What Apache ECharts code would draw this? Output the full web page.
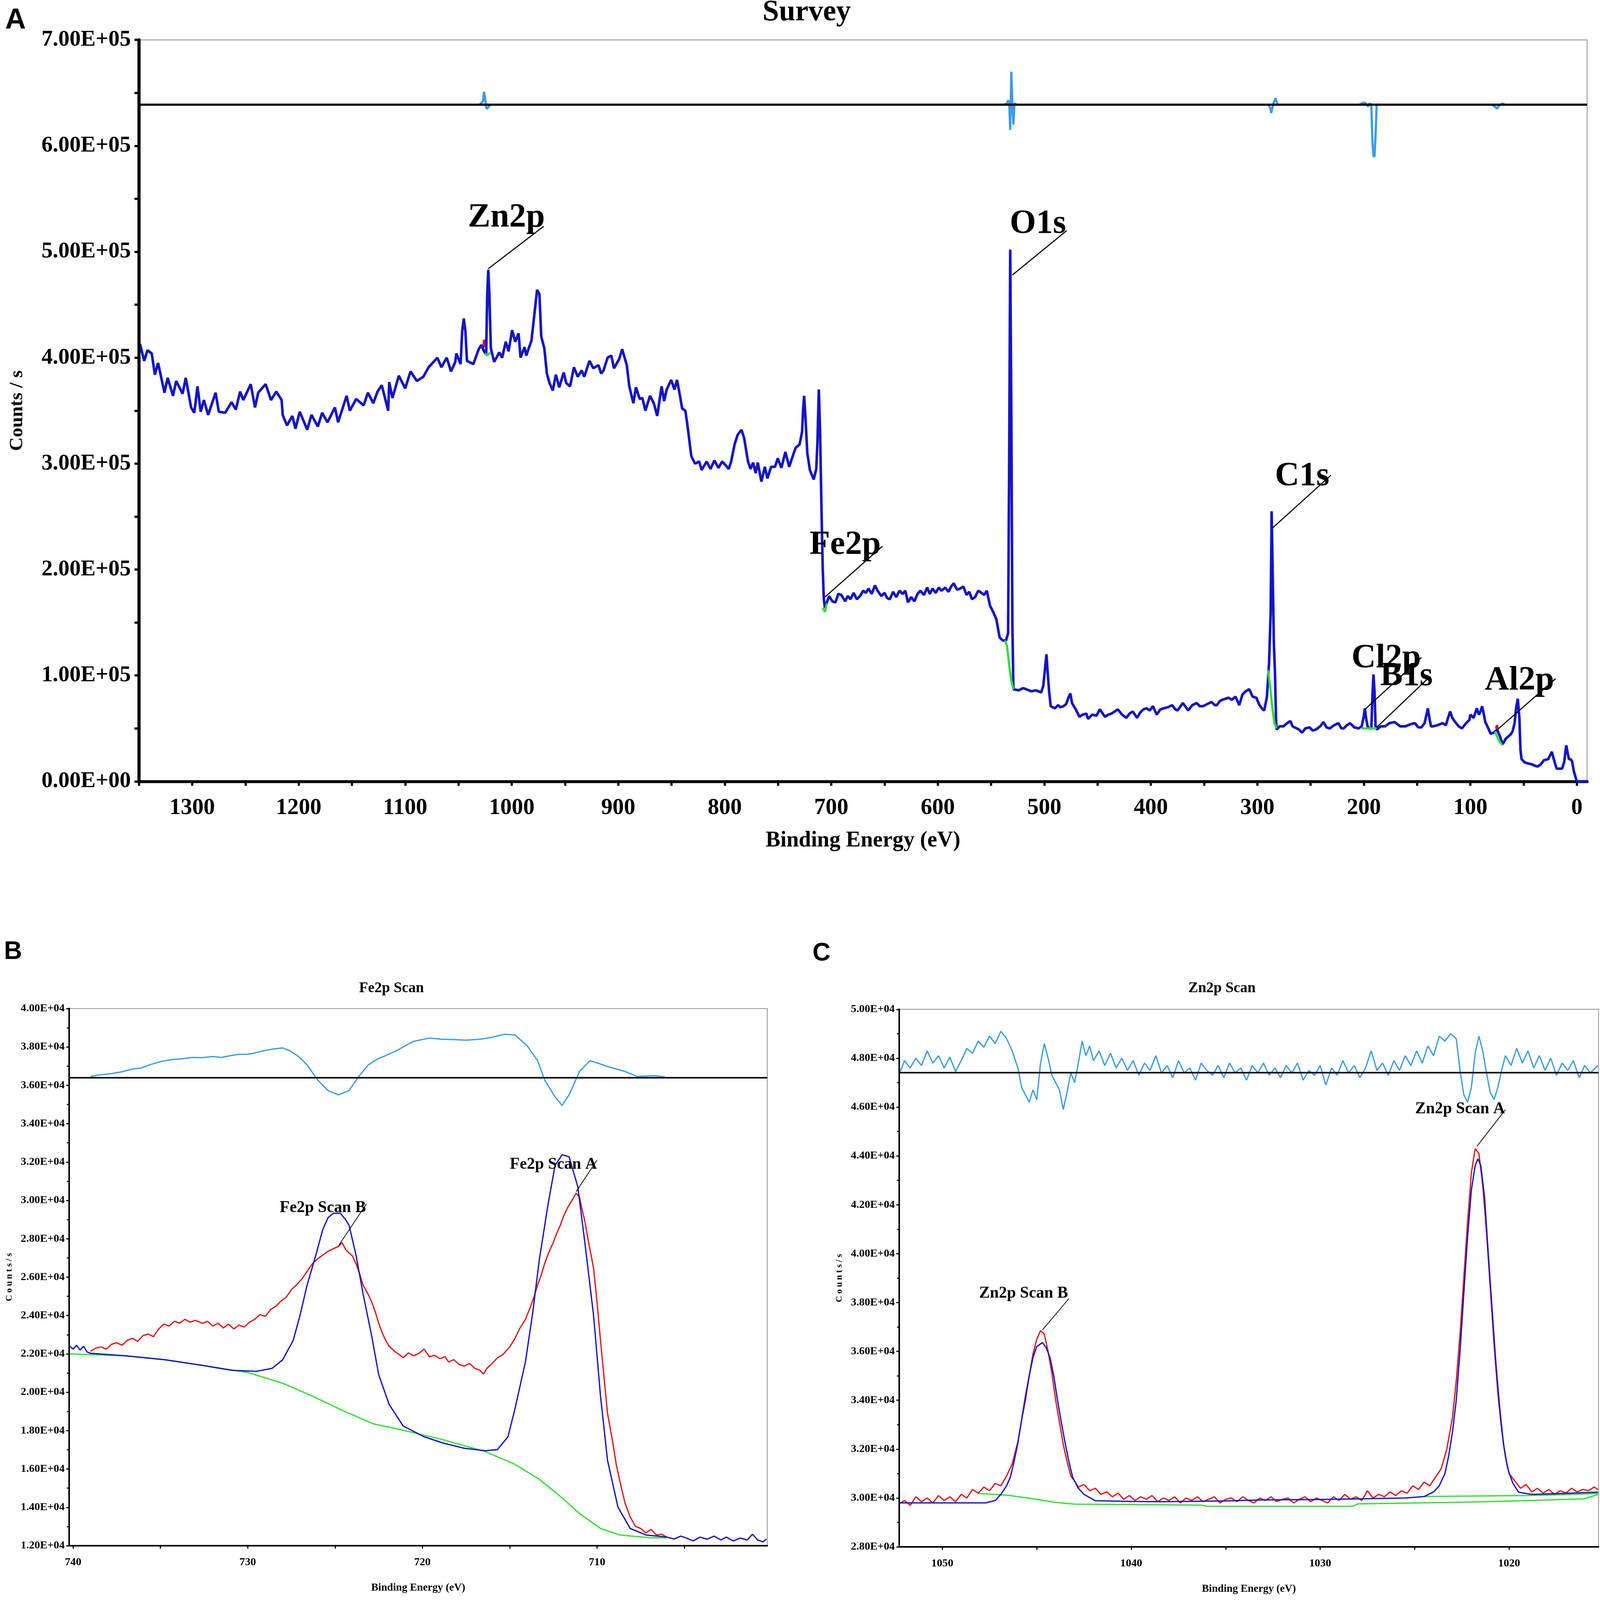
<!DOCTYPE html>
<html>
<head>
<meta charset="utf-8">
<title>XPS survey, Fe2p and Zn2p scans</title>
<script src="https://cdn.jsdelivr.net/npm/echarts@6/dist/echarts.min.js"></script>
<style>
  html, body { margin: 0; padding: 0; background: #fff; overflow: hidden; }
  #chart { width: 100vw; height: 100vh; }
</style>
</head>
<body>
<div id="chart"></div>
<script>
// gap marker for broken line segments
var GAP = ['-', '-'];

// ---- A: survey, [binding energy eV, counts/s x 1e5] ----
var surveyData = [
  [1350,4.10],[1349,4.13],[1345,3.97],[1342,4.07],[1338,4.04],[1335,3.84],[1332,3.95],[1326,3.67],
  [1323,3.81],[1318,3.64],[1315,3.78],[1309,3.66],[1306,3.81],[1301,3.53],[1298,3.48],[1295,3.73],
  [1292,3.49],[1289,3.60],[1285,3.46],[1278,3.67],[1275,3.49],[1269,3.48],[1263,3.58],[1259,3.51],
  [1255,3.68],[1252,3.60],[1245,3.75],[1241,3.53],[1238,3.67],[1231,3.75],[1226,3.60],[1221,3.68],
  [1216,3.60],[1215,3.46],[1211,3.36],[1206,3.45],[1203,3.33],[1199,3.49],[1192,3.32],[1188,3.46],
  [1182,3.35],[1178,3.48],[1173,3.39],[1166,3.53],[1163,3.39],[1155,3.64],[1152,3.50],[1146,3.61],
  [1139,3.55],[1135,3.67],[1130,3.57],[1126,3.68],[1122,3.74],[1116,3.50],[1115,3.77],[1112,3.62],
  [1106,3.83],[1100,3.71],[1095,3.87],[1089,3.78],[1083,3.82],[1078,3.91],[1073.4,3.96],[1069.8,4.00],
  [1066,3.91],[1061,4.00],[1057,3.87],[1053,3.96],[1052,4.04],[1048,3.94],[1046.5,4.25],[1045,4.37],
  [1043.5,4.25],[1042,3.97],[1036,3.94],[1031,4.08],[1028.6,4.12],[1026,4.06],[1024,4.03],[1023,4.60],
  [1022,4.83],[1021,4.60],[1019.6,4.09],[1016.5,3.96],[1011.7,4.05],[1009,4.00],[1005.6,4.15],[1003,4.06],
  [999.6,4.26],[996.7,4.15],[993.6,4.23],[991.7,4.00],[988,4.10],[986.3,4.02],[984,4.09],[981.5,4.16],
  [979.6,4.33],[976.2,4.64],[974,4.60],[972.3,4.20],[969.4,4.09],[967,3.85],[964.5,3.76],[961.4,3.69],
  [958.6,3.84],[955.4,3.72],[951.2,3.86],[948.8,3.76],[945.2,3.73],[941.6,3.91],[938,3.82],[934.3,3.88],
  [931.9,3.82],[927,3.97],[923.4,3.90],[918.6,3.93],[916,3.85],[913.8,3.88],[910,4.00],[906.5,4.02],
  [904,3.90],[899,3.99],[896.3,4.08],[892,3.93],[889.6,3.73],[885.8,3.57],[883.4,3.72],[879.8,3.61],
  [877.4,3.62],[874.5,3.50],[870.2,3.64],[866.6,3.57],[863.4,3.45],[859.3,3.73],[856.9,3.59],[854.5,3.70],
  [850.3,3.79],[847.2,3.70],[844.8,3.79],[842.4,3.66],[840,3.52],[837,3.50],[835,3.36],[833.4,3.23],
  [831.4,3.07],[827.9,3.00],[824,3.02],[821.7,2.94],[817,3.02],[813.4,2.95],[809.7,3.03],[806,2.96],
  [802.4,3.02],[796.3,2.95],[794,3.02],[790.8,3.18],[788,3.27],[784.3,3.32],[781.8,3.24],[778.2,3.02],
  [775.8,2.95],[773.4,3.01],[771,2.91],[769,3.01],[765.6,2.83],[762.4,2.97],[760,2.86],[756.5,2.97],
  [752.8,2.97],[750.3,3.05],[746.8,2.96],[743.1,3.11],[739.5,2.97],[735.9,3.08],[733.4,3.15],[729.8,3.18],
  [727.4,3.30],[726.5,3.50],[725.5,3.64],[724.3,3.45],[723.3,3.25],[722.5,3.10],[720.1,2.94],[716.5,2.85],
  [714.1,2.95],[713,3.20],[711.7,3.70],[710.5,3.30],[709.3,2.62],[708,2.00],[707,1.72],[706,1.64],
  [702,1.75],[699,1.70],[696,1.69],[693.5,1.77],[690.6,1.76],[687,1.70],[684.5,1.75],[682,1.72],
  [679,1.78],[676,1.72],[673,1.75],[670,1.80],[667.5,1.78],[665,1.82],[662,1.77],[659,1.85],
  [656.5,1.80],[653,1.75],[650,1.78],[647.5,1.73],[645,1.72],[642,1.79],[639,1.74],[636,1.80],
  [633,1.77],[630.5,1.80],[628,1.69],[625,1.74],[622,1.70],[619,1.77],[616.5,1.80],[613,1.76],
  [610,1.83],[607.5,1.77],[605,1.82],[602,1.78],[599,1.83],[596.5,1.80],[593,1.83],[590,1.79],
  [587.5,1.84],[585,1.87],[582,1.81],[579,1.82],[576,1.84],[573,1.76],[570.5,1.79],[568,1.72],
  [565,1.74],[562,1.80],[559,1.78],[556.5,1.76],[554,1.80],[551,1.66],[548,1.60],[545,1.53],
  [542,1.36],[539,1.33],[536,1.33],[534,1.40],[533,3.00],[532,5.02],[531,3.50],[530,1.50],
  [529,0.87],[524,0.86],[520,0.88],[517,0.87],[512,0.85],[508,0.86],[503,0.84],[501,0.90],
  [499,1.10],[498,1.20],[497,1.05],[495.5,0.85],[494,0.71],[490,0.69],[487,0.72],[485,0.70],
  [482,0.71],[479.5,0.73],[477,0.80],[475.5,0.83],[474,0.74],[470,0.67],[467,0.61],[464,0.63],
  [460.5,0.64],[459,0.59],[455,0.63],[451,0.62],[448,0.68],[443,0.61],[440,0.63],[437,0.64],
  [434,0.66],[431,0.68],[427,0.63],[423,0.60],[420,0.64],[417,0.66],[413,0.60],[410,0.65],
  [407,0.68],[404,0.69],[401,0.67],[398,0.71],[394.5,0.63],[391,0.68],[388,0.69],[384,0.70],
  [380,0.72],[377,0.68],[375,0.67],[372,0.71],[370,0.74],[367,0.70],[365,0.67],[361,0.72],
  [357,0.74],[354,0.71],[351,0.71],[347,0.73],[343,0.75],[340,0.72],[338,0.72],[335,0.76],
  [333,0.77],[330,0.78],[327,0.79],[324,0.77],[320.5,0.80],[317,0.72],[314,0.82],[311,0.85],
  [307.6,0.87],[304.5,0.80],[301,0.79],[298,0.72],[295,0.68],[293.5,0.67],[291,0.80],[289,1.12],
  [287.5,1.60],[286.6,2.55],[285.5,1.90],[284.5,1.30],[283.5,1.04],[282.5,0.60],[282,0.49],[279,0.52],
  [275.5,0.52],[272,0.55],[269,0.57],[267,0.52],[265,0.51],[261,0.49],[258,0.46],[255,0.50],
  [251,0.51],[248,0.48],[245,0.49],[241,0.52],[238,0.56],[235,0.51],[232,0.50],[228,0.53],
  [224,0.55],[221,0.50],[219,0.50],[216,0.53],[213,0.55],[209,0.51],[205,0.50],[202,0.52],
  [200,0.62],[199,0.69],[198,0.60],[196.5,0.52],[195,0.50],[193,0.50],[192,0.80],[191,1.01],
  [190,0.85],[189,0.52],[188,0.49],[184,0.52],[180,0.52],[176,0.55],[171,0.56],[166,0.52],
  [161,0.52],[156,0.54],[152,0.55],[149,0.51],[146,0.51],[143,0.55],[141,0.64],[140,0.69],
  [138.5,0.60],[137,0.52],[135,0.52],[131,0.53],[126,0.55],[123,0.53],[121,0.60],[119,0.66],
  [117,0.60],[115,0.57],[111,0.52],[108,0.50],[104,0.55],[101,0.58],[100,0.63],[97,0.60],
  [94,0.69],[92,0.63],[90.5,0.66],[89,0.71],[87.5,0.64],[86,0.56],[84,0.52],[81,0.45],
  [78,0.46],[75,0.49],[72,0.42],[69.7,0.35],[67,0.40],[65,0.42],[62.5,0.44],[60.5,0.47],
  [58.5,0.55],[57,0.70],[55.5,0.78],[54,0.60],[53,0.30],[52,0.21],[49,0.18],[46,0.17],
  [42,0.16],[40,0.15],[37,0.14],[34,0.16],[31,0.20],[27,0.21],[24.5,0.26],[23.5,0.28],
  [22,0.22],[19,0.12],[16,0.12],[14,0.12],[12,0.18],[10,0.34],[8.5,0.26],[7.5,0.21],
  [6,0.21],[4.5,0.19],[3,0.10],[1,0.03],[0,0.0],[-9.6,0.0]
];
var surveyRaw = [
  [1027,4.08],[1026,4.17],[1025,4.10], GAP,
  [76,0.50],[75,0.53],[74,0.49]
];
var surveyBackground = [
  [1025,4.04],[1023,4.02],[1020,4.05], GAP,
  [708,1.64],[706,1.60],[704,1.68], GAP,
  [537,1.33],[535,1.28],[533,1.10],[531,0.95],[529,0.87], GAP,
  [290,1.05],[288,0.90],[286,0.70],[284,0.55],[282,0.50], GAP,
  [202,0.50],[194,0.50],[188,0.50], GAP,
  [77,0.47],[73,0.38],[70,0.34]
];
var surveyResidual = [
  [1030,6.39],[1027,6.42],[1026,6.51],[1025,6.45],[1024,6.36],[1023,6.35],[1021,6.38],[1019,6.39], GAP,
  [538,6.39],[535,6.40],[534,6.43],[533,6.41],[532,6.15],[531,6.70],[530,6.40],[529,6.20],[528,6.40],[526,6.39], GAP,
  [290,6.39],[288,6.36],[287,6.31],[285,6.40],[284,6.42],[283,6.45],[281,6.39], GAP,
  [204,6.39],[200,6.41],[198,6.40],[196,6.37],[195,6.40],[193,6.39],[192,6.05],[191,5.90],[190,5.90],[189,6.10],[188,6.39],[186,6.39], GAP,
  [80,6.39],[77,6.37],[75,6.35],[73,6.38],[70,6.40],[68,6.39]
];
var surveyResidualZero = 6.39;
var surveyLabels = [[1005,5.32,'Zn2p'],[506,5.26,'O1s'],[258,2.88,'C1s'],[687,2.23,'Fe2p'],
  [179,1.16,'Cl2p'],[160,0.99,'B1s'],[54,0.95,'Al2p']];
var surveyLeaders = [[[1022,4.84],[970,5.24]],[[530,4.78],[479,5.20]],[[286,2.39],[231,2.89]],
  [[706,1.74],[652,2.22]],[[199,0.68],[146,1.17]],[[188,0.51],[139,0.98]],[[74.5,0.49],[20,0.97]]];
var surveyTicks = [1350,1300,1250,1200,1150,1100,1050,1000,950,900,850,800,750,700,650,600,550,500,450,400,350,300,250,200,150,100,50,0];
var surveyTickLabels = [1300,1200,1100,1000,900,800,700,600,500,400,300,200,100,0];

// ---- B: Fe2p scan, [binding energy eV, counts/s] ----
var fe2pRaw = [
  [739.0,22140],[738.7,22300],[738.4,22360],[738.1,22250],[737.8,22500],[737.5,22580],[737.2,22450],
  [736.9,22700],[736.6,22810],[736.3,22650],[736.0,22950],[735.7,23030],[735.4,22900],[735.1,23300],
  [734.8,23550],[734.5,23450],[734.2,23700],[733.9,23600],[733.6,23800],[733.3,23650],[733.0,23750],
  [732.6,23590],[732.3,23700],[732.0,23450],[731.7,23600],[731.4,23350],[731.1,23550],[730.8,23300],
  [730.5,23500],[730.2,23400],[729.9,23650],[729.6,23800],[729.3,24050],[729.0,23950],[728.7,24300],
  [728.4,24480],[728.1,24750],[727.8,24950],[727.5,25350],[727.2,25600],[726.9,25900],[726.6,26300],
  [726.3,26700],[726.0,26950],[725.7,27150],[725.4,27350],[725.1,27480],[724.8,27600],[724.6,27800],
  [724.4,27450],[724.2,27260],[724.0,27100],[723.8,26700],[723.6,26200],[723.4,25590],[723.1,25100],
  [722.9,24700],[722.7,24200],[722.5,23590],[722.3,23100],[722.1,22700],[721.9,22400],[721.6,22140],
  [721.3,21950],[721.1,21800],[720.8,22050],[720.5,21900],[720.2,22030],[719.9,22250],[719.6,21850],
  [719.3,21920],[719.0,21750],[718.7,21850],[718.5,21580],[718.2,21700],[717.9,21450],[717.6,21360],
  [717.3,21500],[717.0,21250],[716.7,21140],[716.5,20950],[716.3,21250],[716.0,21500],[715.7,21800],
  [715.4,21950],[715.0,22360],[714.7,22800],[714.4,23360],[714.1,23800],[713.8,24480],[713.6,25000],
  [713.4,25590],[713.2,26100],[713.0,26700],[712.8,27200],[712.5,27820],[712.3,28300],[712.1,28710],
  [711.9,29200],[711.7,29600],[711.5,29900],[711.3,30200],[711.2,30380],[711.0,30160],[710.9,29700],
  [710.7,28930],[710.5,27900],[710.2,26480],[710.0,24700],[709.8,22700],[709.6,20800],[709.4,18910],
  [709.1,17400],[708.9,16240],[708.6,15000],[708.4,14230],[708.1,13500],[707.8,13010],[707.5,12900],
  [707.2,12670],[706.9,12850],[706.6,12560],[706.3,12600],[706.0,12450]
];
var fe2pEnvelope = [
  [740.2,22400],[740.0,22250],[739.8,22450],[739.6,22200],[739.4,22400],[739.2,22100],[739.0,22030],
  [737.0,21900],[734.7,21690],[732.6,21400],[730.9,21140],[729.5,21090],[728.6,21250],[728.0,21690],
  [727.4,22700],[727.0,24030],[726.6,25590],[726.1,27150],[725.7,28490],[725.4,29100],[725.1,29330],
  [724.7,29330],[724.4,29000],[724.2,28710],[723.8,27150],[723.4,25150],[722.9,22920],[722.5,20910],
  [721.9,19360],[721.1,18240],[719.9,17680],[718.8,17350],[717.6,17080],[716.4,16950],[715.7,17010],
  [715.1,17680],[714.7,19130],[714.1,21580],[713.7,24030],[713.3,26930],[712.8,29820],[712.4,31830],
  [712.0,32380],[711.6,32270],[711.1,30710],[710.7,27820],[710.2,24030],[709.8,19800],[709.4,16460],
  [708.8,14010],[708.1,12900],[707.2,12560],[706.0,12450],[705.6,12350],[705.2,12500],[704.9,12410],
  [704.5,12250],[704.1,12450],[703.7,12340],[703.3,12500],[702.9,12300],[702.6,12450],[702.2,12250],
  [701.8,12400],[701.4,12300],[701.1,12600],[700.8,12300],[700.5,12200],[700.3,12350]
];
var fe2pBackground = [
  [740.2,22000],[737.0,21900],[734.7,21690],[732.6,21400],[730.0,21030],[728.0,20470],[726.3,19800],
  [724.5,19020],[722.8,18350],[721.1,18020],[719.0,17570],[716.4,16910],[714.7,16240],[713.3,15460],
  [712.1,14570],[711.0,13680],[709.8,12900],[708.7,12560],[706.9,12410],[706.0,12410]
];
var fe2pResidual = [
  [739.0,36460],[738.4,36550],[737.8,36610],[737.2,36700],[736.6,36850],[736.1,36900],[735.5,37100],
  [734.9,37250],[734.4,37330],[733.8,37380],[733.2,37450],[732.6,37440],[732.0,37500],[731.5,37450],
  [731.2,37510],[730.6,37600],[730.0,37620],[729.7,37660],[729.1,37800],[728.6,37880],[728.0,37950],
  [727.6,37800],[727.1,37510],[726.6,37060],[726.0,36280],[725.4,35720],[724.8,35500],[724.2,35720],
  [723.7,36390],[723.1,37060],[722.6,37350],[722.2,37510],[721.4,37840],[720.9,38100],[720.5,38290],
  [719.6,38460],[718.9,38400],[718.2,38380],[717.5,38350],[716.7,38400],[716.0,38500],[715.3,38660],
  [714.7,38620],[714.0,38060],[713.4,37280],[713.0,36280],[712.4,35390],[712.0,34950],[711.6,35500],
  [711.0,36720],[710.4,37280],[710.0,37170],[709.3,36950],[708.4,36720],[707.7,36460],[706.7,36500],
  [706.1,36430]
];
var fe2pResidualZero = 36390;
var fe2pLabels = [[725.7,29600,'Fe2p Scan B'],[712.5,31870,'Fe2p Scan A']];
var fe2pLeaders = [[[724.8,27640],[723.2,29820]],[[711.2,30450],[710.0,32100]]];
var fe2pTicks = [740,735,730,725,720,715,710,705];
var fe2pTickLabels = [740,730,720,710];

// ---- C: Zn2p scan, [binding energy eV, counts/s] ----
var zn2pRaw = [
  [1052.3,29750],[1052.0,29900],[1051.7,29700],[1051.4,30050],[1051.1,29850],[1050.8,30000],[1050.5,29800],
  [1050.2,30100],[1049.9,29900],[1049.6,30050],[1049.3,29850],[1049.0,30150],[1048.7,30000],[1048.4,30350],
  [1048.1,30200],[1047.8,30450],[1047.5,30300],[1047.2,30600],[1046.9,30500],[1046.6,30900],[1046.3,31400],
  [1046.0,32300],[1045.8,33200],[1045.6,34000],[1045.4,35000],[1045.2,35900],[1045.0,36500],[1044.8,36850],
  [1044.6,36700],[1044.4,36000],[1044.2,35100],[1044.0,34000],[1043.8,33100],[1043.6,32200],[1043.4,31500],
  [1043.2,30900],[1043.0,30700],[1042.8,30450],[1042.5,30550],[1042.2,30300],[1041.9,30400],[1041.6,30150],
  [1041.3,30250],[1041.0,30050],[1040.7,30200],[1040.4,29950],[1040.1,30100],[1039.8,29900],[1039.5,30050],
  [1039.2,29950],[1038.9,30100],[1038.6,29850],[1038.3,30000],[1038.0,29900],[1037.7,30050],[1037.4,29800],
  [1037.1,30000],[1036.8,29900],[1036.5,30050],[1036.2,29850],[1035.9,29950],[1035.6,30050],[1035.3,29800],
  [1035.0,29950],[1034.7,30000],[1034.4,29850],[1034.1,30050],[1033.8,29900],[1033.5,29800],[1033.2,30000],
  [1032.9,29900],[1032.6,30050],[1032.3,29850],[1032.0,29950],[1031.7,30000],[1031.4,29800],[1031.1,29950],
  [1030.8,30050],[1030.5,29850],[1030.2,30000],[1029.9,29900],[1029.6,29800],[1029.3,30050],[1029.0,29900],
  [1028.7,30150],[1028.4,29950],[1028.1,30050],[1027.8,29900],[1027.5,30300],[1027.2,30000],[1026.9,30150],
  [1026.6,30050],[1026.3,30250],[1026.0,30100],[1025.7,30300],[1025.4,30200],[1025.1,30500],[1024.8,30350],
  [1024.5,30650],[1024.2,30500],[1023.9,30850],[1023.6,31200],[1023.3,32000],[1023.0,33300],[1022.8,34800],
  [1022.6,36700],[1022.4,39000],[1022.2,41300],[1022.0,43300],[1021.8,44300],[1021.6,44100],[1021.4,42800],
  [1021.2,40900],[1021.0,38600],[1020.8,36300],[1020.6,34300],[1020.4,32800],[1020.2,31700],[1020.0,31000],
  [1019.7,30700],[1019.4,30400],[1019.1,30550],[1018.8,30250],[1018.5,30400],[1018.2,30200],[1017.9,30350],
  [1017.6,30150],[1017.3,30300],[1017.0,30200],[1016.7,30400],[1016.4,30250],[1016.1,30350],[1015.8,30300],
  [1015.5,30450],[1015.3,30350]
];
var zn2pEnvelope = [
  [1052.3,29800],[1047.7,29800],[1047.2,29900],[1046.9,30150],[1046.6,30500],[1046.4,30850],[1046.2,31500],
  [1046.0,32250],[1045.8,33200],[1045.6,34170],[1045.4,35000],[1045.2,35750],[1045.0,36200],[1044.7,36360],
  [1044.5,36150],[1044.3,35750],[1044.1,35000],[1043.9,34000],[1043.7,33100],[1043.5,32250],[1043.3,31500],
  [1043.1,30850],[1042.8,30400],[1042.5,30150],[1041.9,29890],[1040.0,29860],[1038.4,29850],[1035.0,29880],
  [1033.1,29920],[1030.0,29940],[1027.7,29970],[1025.5,30000],[1024.5,30060],[1024.0,30250],[1023.7,30500],
  [1023.4,31000],[1023.2,31720],[1023.0,32700],[1022.8,34000],[1022.6,36000],[1022.4,38370],[1022.2,40700],
  [1022.0,42600],[1021.8,43600],[1021.65,43880],[1021.5,43600],[1021.3,42300],[1021.1,39940],[1020.9,37700],
  [1020.7,35500],[1020.5,33700],[1020.3,32200],[1020.1,31300],[1020.0,31020],[1019.8,30600],[1019.5,30240],
  [1019.0,30170],[1018.7,30150],[1017.1,30190],[1015.3,30240]
];
var zn2pBackground = [
  [1048.1,30190],[1046.5,30110],[1045.2,29970],[1044.1,29830],[1043.0,29750],[1036.3,29710],[1036.0,29660],
  [1028.3,29660],[1028.0,29760],[1022.4,29830],[1019.2,29890],[1016.0,29970],[1015.3,30150], GAP,
  [1024.5,30060],[1022.0,30080],[1019.0,30100],[1016.5,30150],[1015.3,30190]
];
var zn2pResidual = [
  [1052.3,47300],[1052.0,47900],[1051.7,47600],[1051.4,48000],[1051.1,47700],[1050.8,48300],[1050.5,47800],
  [1050.2,48100],[1049.9,47600],[1049.6,48050],[1049.3,47450],[1049.0,47900],[1048.7,48400],[1048.4,48200],
  [1048.1,48700],[1047.8,48450],[1047.5,48900],[1047.2,48600],[1046.9,49100],[1046.6,48800],[1046.3,48300],
  [1046.0,47600],[1045.8,46800],[1045.6,46500],[1045.4,46200],[1045.2,46700],[1045.0,46300],[1044.8,47800],
  [1044.6,48600],[1044.4,48000],[1044.2,47300],[1044.0,47000],[1043.8,46700],[1043.6,45900],[1043.4,46600],
  [1043.2,47400],[1043.0,47000],[1042.8,47800],[1042.6,48700],[1042.4,48100],[1042.2,48500],[1042.0,47900],
  [1041.7,48300],[1041.4,47700],[1041.1,48200],[1040.8,47600],[1040.5,48000],[1040.2,47500],[1039.9,47900],
  [1039.6,47300],[1039.3,47800],[1039.0,47500],[1038.7,48100],[1038.4,47400],[1038.1,47700],[1037.8,47200],
  [1037.5,47900],[1037.2,47400],[1036.9,47600],[1036.6,47100],[1036.3,47800],[1036.0,47500],[1035.7,47300],
  [1035.4,47700],[1035.1,47200],[1034.8,47800],[1034.5,47400],[1034.2,47600],[1033.9,47100],[1033.6,47700],
  [1033.3,47400],[1033.0,47800],[1032.7,47300],[1032.4,47600],[1032.1,47200],[1031.8,47700],[1031.5,47400],
  [1031.2,47800],[1030.9,47100],[1030.6,47500],[1030.3,47300],[1030.0,47700],[1029.7,46900],[1029.4,47600],
  [1029.1,47300],[1028.8,47900],[1028.5,47400],[1028.2,47700],[1027.9,47200],[1027.6,47600],[1027.3,48300],
  [1027.0,47500],[1026.7,47800],[1026.4,47300],[1026.1,47900],[1025.8,47500],[1025.5,48100],[1025.2,47700],
  [1024.9,48300],[1024.6,47800],[1024.3,48500],[1024.0,48100],[1023.7,48900],[1023.4,48700],[1023.1,49000],
  [1022.8,48800],[1022.6,47500],[1022.4,46500],[1022.2,46200],[1022.0,46800],[1021.8,48200],[1021.6,48900],
  [1021.4,48300],[1021.2,47400],[1021.0,46600],[1020.8,46300],[1020.6,46800],[1020.4,47500],[1020.2,48100],
  [1019.9,47700],[1019.6,48400],[1019.3,47800],[1019.0,48300],[1018.7,47600],[1018.4,48100],[1018.1,47500],
  [1017.8,48000],[1017.5,47300],[1017.2,47800],[1016.9,47500],[1016.6,47900],[1016.3,47200],[1016.0,47700],
  [1015.7,47400],[1015.3,47700]
];
var zn2pResidualZero = 47410;
var zn2pLabels = [[1045.7,38370,'Zn2p Scan B'],[1022.6,45920,'Zn2p Scan A']];
var zn2pLeaders = [[[1044.7,36880],[1043.3,38160]],[[1021.7,44400],[1020.2,45890]]];
var zn2pTicks = [1050,1045,1040,1035,1030,1025,1020];
var zn2pTickLabels = [1050,1040,1030,1020];

// panel extents: energy (axes reversed, high energy on the left) and counts
var surveyRange = [-9.6, 1350], surveyCounts = [0, 7];
var fe2pRange = [700.25, 740.23], fe2pCounts = [12000, 40000];
var zn2pRange = [1015.27, 1052.28], zn2pCounts = [28000, 50000];

var SERIF = '"Liberation Serif", "Times New Roman", serif';
var C_BLUE = '#1414c8', C_RED = '#e01818', C_GREEN = '#2ee02e', C_RES = '#3b9be6';

var chart = echarts.init(document.getElementById('chart'), null, { renderer: 'canvas' });

// layout is measured on a 4354 x 4128 page and scaled to the real viewport
var SX = chart.getWidth() / 4354, SY = chart.getHeight() / 4128, SF = Math.min(SX, SY);
function X(v) { return v * SX; }
function Y(v) { return v * SY; }
function F(v) { return v * SF; }

function fmtE(exp) {
  return function (v) {
    if (exp === 5) return v === 0 ? '0.00E+00' : v.toFixed(2) + 'E+05';
    return (v / 1e4).toFixed(2) + 'E+04';
  };
}

function xAxisFor(grid, range, ticks, tickLabels, big) {
  return {
    type: 'value', gridIndex: grid, inverse: true, min: range[0], max: range[1],
    splitLine: { show: false },
    axisLine: { onZero: false, lineStyle: { color: '#000', width: F(big ? 8 : 4) } },
    axisTick: { customValues: ticks, length: F(big ? 12 : 8), lineStyle: { color: '#000', width: F(big ? 6 : 3) } },
    axisLabel: {
      customValues: tickLabels, margin: F(big ? 42 : 30), color: '#000',
      fontFamily: SERIF, fontWeight: 'bold', fontSize: F(big ? 62 : 30),
      formatter: function (v) { return String(v); }
    },
    name: 'Binding Energy (eV)', nameLocation: 'middle', nameGap: F(big ? 132 : 100),
    nameTextStyle: { color: '#000', fontFamily: SERIF, fontWeight: 'bold', fontSize: F(big ? 60 : 29) }
  };
}

function yAxisFor(grid, counts, interval, exp, name, gap, big) {
  return {
    type: 'value', gridIndex: grid, position: 'left', min: counts[0], max: counts[1], interval: interval,
    splitLine: { show: false },
    axisLine: { show: true, onZero: false, lineStyle: { color: '#000', width: F(big ? 8 : 4) } },
    axisTick: { show: true, length: F(big ? 12 : 8), lineStyle: { color: '#000', width: F(big ? 6 : 3) } },
    minorTick: { show: true, splitNumber: 2, length: F(big ? 12 : 6), lineStyle: { color: '#000', width: F(big ? 6 : 3) } },
    axisLabel: {
      formatter: fmtE(exp), margin: F(big ? 22 : 12), color: '#000',
      fontFamily: SERIF, fontWeight: 'bold', fontSize: F(big ? 61 : 30)
    },
    name: name, nameLocation: 'middle', nameGap: F(gap),
    nameTextStyle: { color: '#000', fontFamily: SERIF, fontWeight: 'bold', fontSize: F(big ? 52 : 24) }
  };
}

function curve(grid, data, color, width, z) {
  return {
    type: 'line', xAxisIndex: grid, yAxisIndex: grid, data: data, showSymbol: false,
    symbol: 'none', lineStyle: { color: color, width: F(width) }, z: z, silent: true
  };
}

// solid vertical axis line along the high-energy edge of a panel
function leftAxisLine(grid, range, counts, width) {
  var s = curve(grid, [[range[1], counts[0]], [range[1], counts[1]]], '#000', width, 8);
  s.clip = false;
  s.lineStyle.cap = 'square';
  return s;
}

// residual trace with its zero line
function residual(grid, data, zero, width, lineWidth) {
  var s = curve(grid, data, C_RES, width, 3);
  s.markLine = {
    silent: true, symbol: ['none', 'none'], label: { show: false },
    lineStyle: { color: '#000', width: F(lineWidth), type: 'solid' },
    data: [{ yAxis: zero }]
  };
  return s;
}

function annotations(grid, labels, leaders, fontSize, lineWidth) {
  return {
    type: 'scatter', xAxisIndex: grid, yAxisIndex: grid, symbolSize: 1, z: 6, silent: true,
    itemStyle: { color: 'rgba(0,0,0,0)', opacity: 1 },
    data: labels,
    label: {
      show: true, position: 'inside', color: '#000', opacity: 1, fontFamily: SERIF, fontWeight: 'bold',
      textBorderWidth: 0, fontSize: F(fontSize), formatter: function (p) { return p.data[2]; }
    },
    markLine: {
      silent: true, symbol: ['none', 'none'], label: { show: false },
      lineStyle: { color: '#000', width: F(lineWidth), type: 'solid', opacity: 1 },
      data: leaders.map(function (l) { return [{ coord: l[0] }, { coord: l[1] }]; })
    }
  };
}

function panelLetter(text, left, top, size) {
  return { type: 'text', left: X(left), top: Y(top),
    style: { text: text, font: 'bold ' + F(size) + 'px "Liberation Sans", Arial, sans-serif', fill: '#000' } };
}

chart.setOption({
  animation: false,
  backgroundColor: '#fff',
  title: [
    { text: 'Survey', left: X(2190), top: Y(-10), textAlign: 'center',
      textStyle: { fontFamily: SERIF, fontWeight: 'bold', fontSize: F(80), color: '#000' } },
    { text: 'Fe2p Scan', left: X(1060), top: Y(2526), textAlign: 'center',
      textStyle: { fontFamily: SERIF, fontWeight: 'bold', fontSize: F(40), color: '#000' } },
    { text: 'Zn2p Scan', left: X(3320), top: Y(2526), textAlign: 'center',
      textStyle: { fontFamily: SERIF, fontWeight: 'bold', fontSize: F(40), color: '#000' } }
  ],
  graphic: [
    panelLetter('A', 14, 16, 78),
    panelLetter('B', 11, 2424, 68),
    panelLetter('C', 2211, 2428, 68)
  ],
  grid: [
    { left: X(378), top: Y(103), width: X(3941), height: Y(1913), show: true, borderColor: '#888', borderWidth: F(2) },
    { left: X(188), top: Y(2602), width: X(1900), height: Y(1386), show: true, borderColor: '#888', borderWidth: F(2) },
    { left: X(2447), top: Y(2604), width: X(1903), height: Y(1387), show: true, borderColor: '#888', borderWidth: F(2) }
  ],
  xAxis: [
    xAxisFor(0, surveyRange, surveyTicks, surveyTickLabels, true),
    xAxisFor(1, fe2pRange, fe2pTicks, fe2pTickLabels, false),
    xAxisFor(2, zn2pRange, zn2pTicks, zn2pTickLabels, false)
  ],
  yAxis: [
    yAxisFor(0, surveyCounts, 1, 5, 'Counts / s', 305, true),
    yAxisFor(1, fe2pCounts, 2000, 4, 'C o u n t s / s', 150, false),
    yAxisFor(2, zn2pCounts, 2000, 4, 'C o u n t s / s', 150, false)
  ],
  series: [
    curve(0, surveyRaw, C_RED, 6, 1),
    curve(0, surveyData, C_BLUE, 7, 2),
    curve(0, surveyBackground, C_GREEN, 6, 3),
    residual(0, surveyResidual, surveyResidualZero, 6, 6),
    annotations(0, surveyLabels, surveyLeaders, 92, 3),
    leftAxisLine(0, surveyRange, surveyCounts, 8),

    curve(1, fe2pBackground, C_GREEN, 3.5, 2),
    curve(1, fe2pRaw, C_RED, 3.5, 3),
    curve(1, fe2pEnvelope, C_BLUE, 3.5, 4),
    residual(1, fe2pResidual, fe2pResidualZero, 3.5, 4),
    annotations(1, fe2pLabels, fe2pLeaders, 44, 2),
    leftAxisLine(1, fe2pRange, fe2pCounts, 4),

    curve(2, zn2pBackground, C_GREEN, 3.5, 2),
    curve(2, zn2pRaw, C_RED, 3.5, 3),
    curve(2, zn2pEnvelope, C_BLUE, 3.5, 4),
    residual(2, zn2pResidual, zn2pResidualZero, 3.5, 4),
    annotations(2, zn2pLabels, zn2pLeaders, 44, 2),
    leftAxisLine(2, zn2pRange, zn2pCounts, 4)
  ]
});
</script>
</body>
</html>
